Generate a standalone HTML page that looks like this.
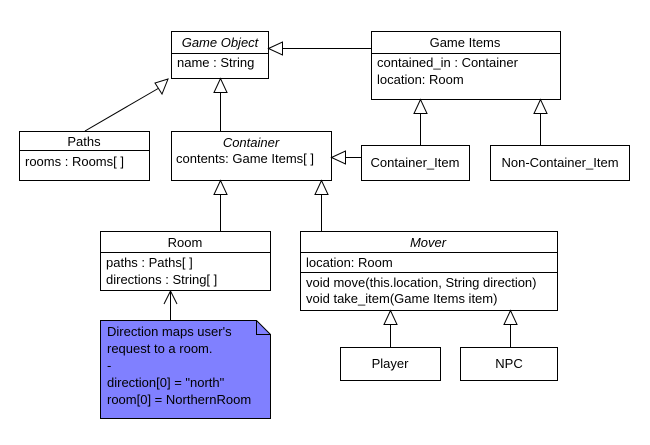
<!DOCTYPE html>
<html><head><style>
body{margin:0;background:#fff}
svg text{font-family:"Liberation Sans",Arial,sans-serif;font-size:13px;fill:#000}
</style></head><body>
<svg width="650" height="440" xmlns="http://www.w3.org/2000/svg">
<g fill="#fff" stroke="#000" stroke-width="1">
<rect x="171.5" y="31.5" width="97" height="47"/><line x1="171" y1="53.5" x2="268" y2="53.5"/>
<rect x="371.5" y="31.5" width="189" height="68"/><line x1="371" y1="53.5" x2="560" y2="53.5"/>
<rect x="19.5" y="131.5" width="130" height="49"/><line x1="19" y1="150.5" x2="149" y2="150.5"/>
<rect x="171.5" y="131.5" width="160" height="49"/>
<rect x="361.5" y="145.5" width="108" height="35"/>
<rect x="490.5" y="145.5" width="139" height="35"/>
<rect x="100.5" y="231.5" width="170" height="59"/><line x1="100" y1="252.5" x2="270" y2="252.5"/>
<rect x="300.5" y="231.5" width="257" height="79"/><line x1="300" y1="252.5" x2="557" y2="252.5"/><line x1="300" y1="272.5" x2="557" y2="272.5"/>
<rect x="340.5" y="347.5" width="100" height="33"/>
<rect x="460.5" y="347.5" width="97" height="33"/>
<path d="M100.5 320.5 H256.5 L270.5 334.5 V418.5 H100.5 Z" fill="#8080ff"/>
<path d="M256.5 320.5 V334.5 H270.5" fill="none"/>
<line x1="282" y1="48.5" x2="371" y2="48.5"/>
<path d="M268.5 48.5 L282.5 42 L282.5 55 Z"/>
<line x1="85" y1="131" x2="159" y2="88"/>
<path d="M168 79 L155 83 L162 94 Z"/>
<line x1="220.5" y1="92" x2="220.5" y2="131"/>
<path d="M220.5 78.5 L214 92.5 L227 92.5 Z"/>
<line x1="420.5" y1="113" x2="420.5" y2="145"/>
<path d="M420.5 99.5 L414 113.5 L427 113.5 Z"/>
<line x1="540.5" y1="113" x2="540.5" y2="145"/>
<path d="M540.5 99.5 L534 113.5 L547 113.5 Z"/>
<line x1="345" y1="157.5" x2="361" y2="157.5"/>
<path d="M331.5 157.5 L345.5 151 L345.5 164 Z"/>
<line x1="220.5" y1="194" x2="220.5" y2="231"/>
<path d="M220.5 180.5 L214 194.5 L227 194.5 Z"/>
<line x1="321.5" y1="194" x2="321.5" y2="231"/>
<path d="M321.5 180.5 L315 194.5 L328 194.5 Z"/>
<line x1="390.5" y1="324" x2="390.5" y2="347"/>
<path d="M390.5 310.5 L384 324.5 L397 324.5 Z"/>
<line x1="510.5" y1="324" x2="510.5" y2="347"/>
<path d="M510.5 310.5 L504 324.5 L517 324.5 Z"/>
<line x1="170.5" y1="291" x2="170.5" y2="320"/>
<path d="M164 304 L170.5 291 L177 304" fill="none"/>
</g>
<text x="220" y="47" text-anchor="middle" font-style="italic">Game Object</text>
<text x="177" y="67">name : String</text>
<text x="465" y="47" text-anchor="middle">Game Items</text>
<text x="377" y="67">contained_in : Container</text>
<text x="377" y="84">location: Room</text>
<text x="84" y="146" text-anchor="middle">Paths</text>
<text x="25" y="166">rooms : Rooms[ ]</text>
<text x="251" y="147" text-anchor="middle" font-style="italic">Container</text>
<text x="176" y="163">contents: Game Items[ ]</text>
<text x="415" y="167" text-anchor="middle">Container_Item</text>
<text x="560" y="167" text-anchor="middle">Non-Container_Item</text>
<text x="185" y="247" text-anchor="middle">Room</text>
<text x="106" y="267">paths : Paths[ ]</text>
<text x="106" y="284">directions : String[ ]</text>
<text x="428" y="247" text-anchor="middle" font-style="italic">Mover</text>
<text x="306" y="267">location: Room</text>
<text x="306" y="287">void move(this.location, String direction)</text>
<text x="306" y="303">void take_item(Game Items item)</text>
<text x="390" y="368" text-anchor="middle">Player</text>
<text x="509" y="368" text-anchor="middle">NPC</text>
<text x="107" y="336">Direction maps user's</text>
<text x="107" y="353">request to a room.</text>
<text x="107" y="370">-</text>
<text x="107" y="387">direction[0] = "north"</text>
<text x="107" y="404">room[0] = NorthernRoom</text>
</svg>
</body></html>
